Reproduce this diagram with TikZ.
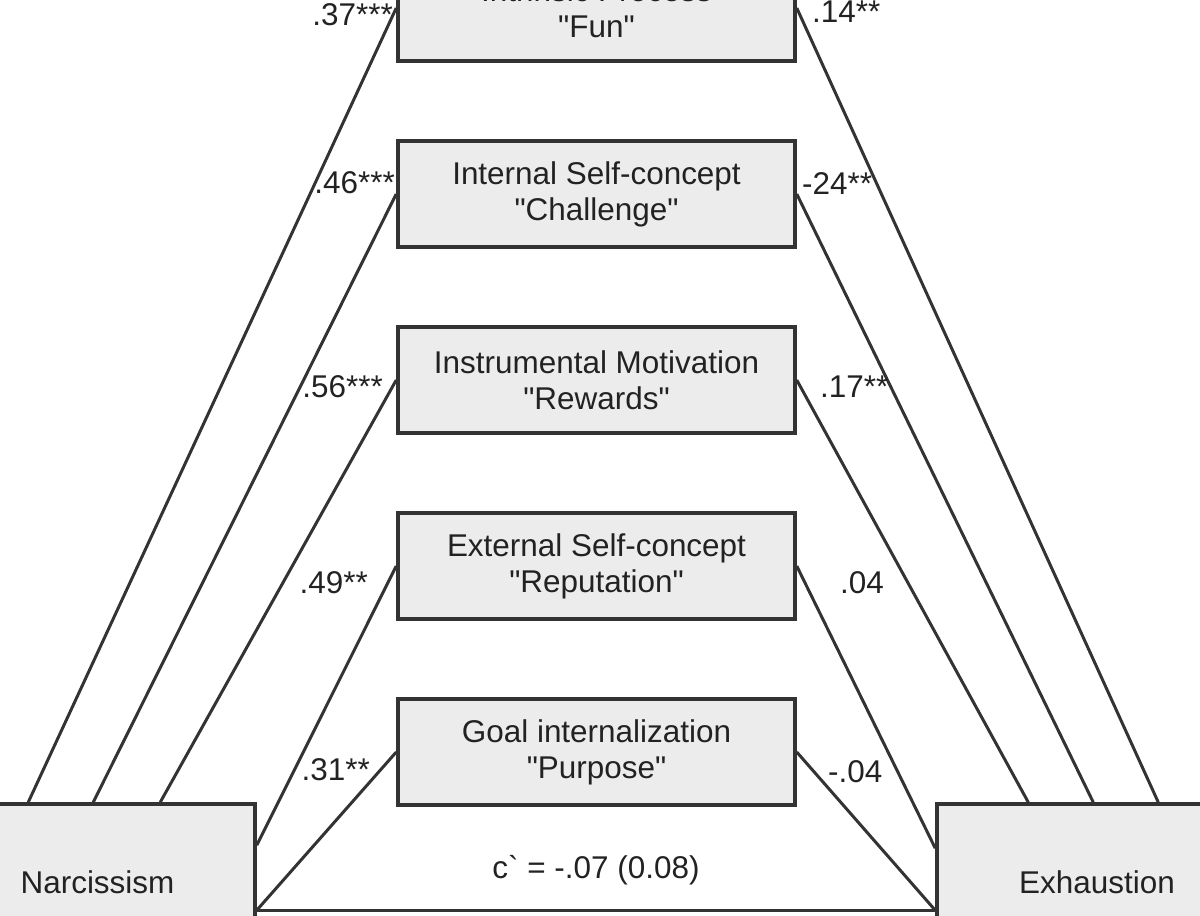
\documentclass[tikz,border=0pt]{standalone}
\usepackage{fontspec}
\setmainfont{Liberation Sans}
\usepackage{color}
\usetikzlibrary{
    positioning,
    calc,
}
\definecolor{boxgray}{HTML}{ECECEC}
\definecolor{linegray}{HTML}{333333}
\definecolor{textgray}{HTML}{222222}

\begin{document}
\begin{tikzpicture}[
    node distance = 1.53cm,
    mediator/.style={draw=linegray, line width=2pt, align=center, minimum width=7.94cm, minimum height=2.12cm, inner sep=0pt, fill=boxgray, text=textgray, font=\fontsize{17.9}{20.4}\selectfont},
    endbox/.style={draw=linegray, line width=2pt, minimum width=6.3cm, minimum height=3.12cm, inner sep=0pt, fill=boxgray, text=textgray, font=\fontsize{17.9}{20.4}\selectfont},
    coef/.style={inner sep=0pt, text=textgray, font=\fontsize{17.9}{20.4}\selectfont},
    link/.style={draw=linegray, line width=1.7pt},
    ]

\useasboundingbox (0,0) rectangle (24,18.3);

% mediators
\node[mediator] at (11.93,18.14) (fun)
    {Intrinsic Process\\\textquotedbl Fun\textquotedbl};
\node[mediator] [below=of fun] (challenge)
    {Internal Self-concept\\\textquotedbl Challenge\textquotedbl};
\node[mediator] [below=of challenge] (rewards)
    {Instrumental Motivation\\\textquotedbl Rewards\textquotedbl};
\node[mediator] [below=of rewards] (reputation)
    {External Self-concept\\\textquotedbl Reputation\textquotedbl};
\node[mediator] [below=of reputation] (purpose)
    {Goal internalization\\\textquotedbl Purpose\textquotedbl};

% predictor and outcome
\node[endbox] at (1.95,0.66) (narc) {Narcissism};
\node[endbox, minimum width=6.4cm] at (21.94,0.66) (exh) {Exhaustion};

% a paths
\draw[link] ([xshift=1.8cm]narc.north west) -- (fun.west);
\draw[link] ([xshift=3.1cm]narc.north west) -- (challenge.west);
\draw[link] ([xshift=4.44cm]narc.north west) -- (rewards.west);
\draw[link] ([yshift=-0.86cm]narc.north east) -- (reputation.west);
\draw[link] ([yshift=-2.16cm]narc.north east) -- (purpose.west);

% b paths
\draw[link] (fun.east) -- ([xshift=4.46cm]exh.north west);
\draw[link] (challenge.east) -- ([xshift=3.16cm]exh.north west);
\draw[link] (rewards.east) -- ([xshift=1.86cm]exh.north west);
\draw[link] (reputation.east) -- ([yshift=-0.92cm]exh.north west);
\draw[link] (purpose.east) -- ([yshift=-2.16cm]exh.north west);

% direct path
\draw[link] ([yshift=-2.16cm]narc.north east) -- ([yshift=-2.16cm]exh.north west)
    node[coef, midway, yshift=0.8cm] {c\textasciigrave{} = -.07 (0.08)};

% coefficients
\node[coef, anchor=east] (afun) at ([shift={(-0.06,-0.14)}]fun.west) {.37***};
\node[coef, anchor=east] (achallenge) at ([shift={(-0.02,0.22)}]challenge.west) {.46***};
\node[coef, anchor=east] (arewards) at ([shift={(-0.26,-0.14)}]rewards.west) {.56***};
\node[coef, anchor=east] (areputation) at ([shift={(-0.56,-0.34)}]reputation.west) {.49**};
\node[coef, anchor=east] (apurpose) at ([shift={(-0.52,-0.36)}]purpose.west) {.31**};

\node[coef, anchor=west] (bfun) at ([shift={(0.3,-0.08)}]fun.east) {.14**};
\node[coef, anchor=west] (bchallenge) at ([shift={(0.1,0.2)}]challenge.east) {-24**};
\node[coef, anchor=west] (brewards) at ([shift={(0.46,-0.14)}]rewards.east) {.17**};
\node[coef, anchor=west] (breputation) at ([shift={(0.86,-0.34)}]reputation.east) {.04};
\node[coef, anchor=west] (bpurpose) at ([shift={(0.62,-0.4)}]purpose.east) {-.04};

\end{tikzpicture}
\end{document}
